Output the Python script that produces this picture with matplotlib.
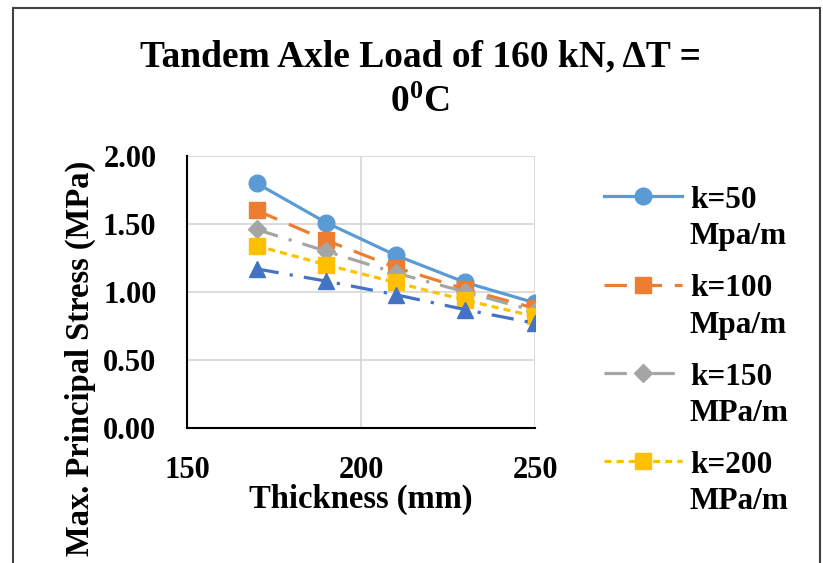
"""Max. principal stress vs slab thickness for a 160 kN tandem axle load."""

import numpy as np
import matplotlib
matplotlib.use("Agg")
import matplotlib.pyplot as plt
from matplotlib.legend_handler import HandlerLine2D
from matplotlib.patches import Rectangle

plt.rcParams['font.family'] = ['Liberation Serif', 'DejaVu Serif']
plt.rcParams['font.weight'] = 'bold'
plt.rcParams['axes.labelweight'] = 'bold'
plt.rcParams['mathtext.fontset'] = 'custom'
plt.rcParams['mathtext.rm'] = 'Liberation Serif:bold'
plt.rcParams['mathtext.bf'] = 'Liberation Serif:bold'
plt.rcParams['mathtext.it'] = 'Liberation Serif:italic:bold'

# data
thickness = [170, 190, 210, 230, 250]
k50 = [1.80, 1.51, 1.27, 1.07, 0.92]
k100 = [1.60, 1.38, 1.18, 1.02, 0.88]
k150 = [1.46, 1.30, 1.14, 1.00, 0.86]
k200 = [1.34, 1.20, 1.07, 0.94, 0.82]
k250 = [1.17, 1.08, 0.98, 0.87, 0.77]

labels = ["k=50\nMpa/m", "k=100\nMpa/m", "k=150\nMPa/m", "k=200\nMPa/m", "k=250\nMPa/m"]
x_ticks = [150, 200, 250]
y_ticks = [0.0, 0.5, 1.0, 1.5, 2.0]


class FirstLineHandler(HandlerLine2D):
    """Legend handle lined up with the first line of a two-line label."""

    def create_artists(self, legend, orig_handle, xdescent, ydescent,
                       width, height, fontsize, trans):
        artists = super().create_artists(legend, orig_handle, xdescent, ydescent,
                                         width, height, fontsize, trans)
        for a in artists:
            a.set_ydata(np.asarray(a.get_ydata()) + 0.72 * fontsize)
        return artists


W, H = 823, 563
fig = plt.figure(figsize=(W / 100, H / 100), dpi=100)
ax = fig.add_axes([187 / W, 1 - 428 / H, (535 - 187) / W, (428 - 156) / H])

styles = [
    dict(color='#5B9BD5', marker='o', ms=12, ls='-'),
    dict(color='#ED7D31', marker='s', ms=11.5, dashes=(7, 4)),
    dict(color='#A5A5A5', marker='D', ms=9.5, dashes=(7, 3.5, 1, 3.5)),
    dict(color='#FFC000', marker='s', ms=11.5, dashes=(2.2, 1.6)),
    dict(color='#4472C4', marker='^', ms=12, dashes=(7, 3.5, 1, 3.5)),
]
series = [k50, k100, k150, k200, k250]
lines = []
for vals, lab, st in zip(series, labels, styles):
    ln, = ax.plot(thickness, vals, lw=2.3, label=lab, **st)
    lines.append(ln)

ax.set_xlim(150, 250)
ax.set_ylim(0, 2)
ax.set_xticks(x_ticks)
ax.set_yticks(y_ticks)
ax.set_yticklabels([f"{v:.2f}" for v in y_ticks])
ax.tick_params(axis='both', length=0, labelsize=22)
ax.tick_params(axis='y', pad=22)
ax.tick_params(axis='x', pad=20)
ax.grid(True, color='#D9D9D9', lw=1.3)
ax.set_axisbelow(True)
for side in ['top', 'right']:
    ax.spines[side].set_visible(False)
for side in ['left', 'bottom']:
    ax.spines[side].set_linewidth(1.5)

ax.set_xlabel("Thickness (mm)", fontsize=23.5, fontweight='bold', labelpad=-1)
fig.text(80 / W, 1 - 358 / H, "Max. Principal Stress (MPa)", rotation=90,
         fontsize=23.5, fontweight='bold', ha='center', va='center')

fig.text(420 / W, 1 - 80 / H, "Tandem Axle Load of 160 kN, ΔT =\n0$^{0}$C",
         fontsize=27, fontweight='bold', ha='center', va='center', linespacing=1.4)

# Excel ran out of room for the fifth legend entry
leg = fig.legend(handles=lines[:4], loc='upper left',
                 bbox_to_anchor=(604 / W, 1 - 186 / H), frameon=False,
                 fontsize=22.5, handlelength=2.5, handletextpad=0.25,
                 labelspacing=0.74, borderaxespad=0, borderpad=0,
                 handler_map={matplotlib.lines.Line2D: FirstLineHandler()})
for t in leg.get_texts():
    t.set_linespacing(1.33)

fig.patches.append(Rectangle((13 / W, -0.1), (820 - 13) / W, 1.1 - 8 / H,
                             transform=fig.transFigure, fill=False,
                             edgecolor='#404040', lw=1.5))

fig.savefig("out.png", dpi=100)
